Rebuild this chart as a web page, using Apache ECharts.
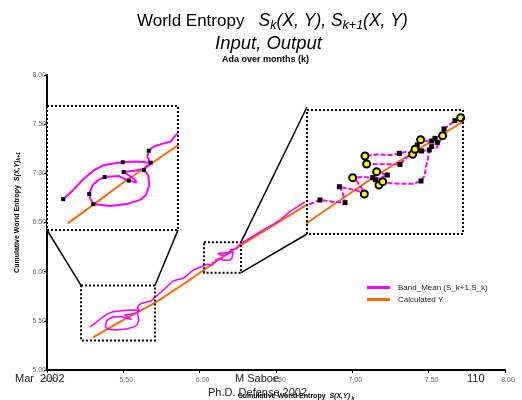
<!DOCTYPE html>
<html>
<head>
<meta charset="utf-8">
<script src="https://cdn.jsdelivr.net/npm/echarts@6/dist/echarts.min.js"></script>
<style>
html, body { margin: 0; padding: 0; background: #fff; }
#chart { width: 522px; height: 400px; }
</style>
</head>
<body>
<div id="chart"></div>
<script>
// Band mean path [x, y, mark] - mark 1 = black square, 2 = yellow circle (shown in the zooms only)
const bandMean = [
    [5.283, 5.439, 1], [5.320, 5.481, 0], [5.357, 5.529, 0], [5.394, 5.568, 0], [5.431, 5.592, 0],
    [5.474, 5.601, 0], [5.503, 5.606, 1], [5.554, 5.609, 0], [5.606, 5.604, 1], [5.589, 5.586, 0],
    [5.581, 5.571, 1], [5.597, 5.548, 0], [5.601, 5.503, 0], [5.589, 5.458, 0], [5.567, 5.436, 0],
    [5.517, 5.417, 0], [5.456, 5.408, 0], [5.394, 5.417, 1], [5.382, 5.443, 0], [5.379, 5.463, 1],
    [5.392, 5.503, 0], [5.413, 5.526, 0], [5.436, 5.539, 1], [5.487, 5.544, 0], [5.525, 5.523, 1],
    [5.554, 5.515, 0], [5.544, 5.532, 0], [5.506, 5.562, 1], [5.548, 5.568, 0], [5.579, 5.576, 0],
    [5.606, 5.597, 0], [5.594, 5.631, 0], [5.599, 5.658, 1], [5.616, 5.676, 0], [5.653, 5.691, 0],
    [5.680, 5.699, 0], [5.696, 5.725, 0], [5.708, 5.741, 0],
    [5.762, 5.814, 0], [5.827, 5.908, 0], [5.893, 5.932, 0], [5.958, 6.017, 0],
    [6.0285, 6.0625, 0], [6.0482, 6.075, 1], [6.0690, 6.0708, 0], [6.0872, 6.0684, 1], [6.0836, 6.0942, 0],
    [6.0784, 6.1083, 1], [6.0898, 6.1042, 0], [6.1054, 6.0992, 0], [6.1173, 6.0900, 2], [6.1126, 6.1058, 0],
    [6.1064, 6.1208, 0], [6.0991, 6.1308, 2], [6.1157, 6.1325, 0], [6.1303, 6.1308, 1], [6.1365, 6.1458, 2],
    [6.1531, 6.1375, 1], [6.1344, 6.1258, 1], [6.1401, 6.1125, 2], [6.1459, 6.1208, 2], [6.1531, 6.1175, 0],
    [6.1728, 6.1158, 0], [6.1936, 6.1158, 0], [6.2056, 6.1225, 1], [6.2113, 6.1358, 0], [6.2134, 6.1583, 0],
    [6.2165, 6.1792, 0], [6.2185, 6.2000, 1], [6.2066, 6.1975, 1], [6.1926, 6.1892, 2], [6.1832, 6.1958, 0],
    [6.1718, 6.1917, 1], [6.1573, 6.1867, 0], [6.1391, 6.1892, 0], [6.1183, 6.1850, 2], [6.1209, 6.1650, 2],
    [6.1469, 6.1642, 0], [6.1728, 6.1642, 1], [6.1962, 6.2017, 2], [6.1998, 6.2125, 1], [6.2050, 6.2258, 2],
    [6.2144, 6.2225, 0], [6.2222, 6.2225, 1], [6.2274, 6.2292, 1], [6.2310, 6.2192, 1], [6.2222, 6.2083, 1],
    [6.2300, 6.2058, 0], [6.2393, 6.2358, 2], [6.2414, 6.2525, 1], [6.2585, 6.2733, 1], [6.2674, 6.2808, 2],
    [6.2726, 6.2875, 0],
    [6.33, 6.34, 0], [6.41, 6.42, 0], [6.47, 6.47, 0], [6.53, 6.53, 0], [6.59, 6.61, 0], [6.69, 6.71, 0]
];

const calculatedY = [
    [5.30, 5.33], [5.50, 5.51], [5.71, 5.685], [5.90, 5.88], [6.03, 6.02],
    [6.13, 6.13], [6.27, 6.27], [6.45, 6.44], [6.70, 6.68]
];

// ranges of the two magnified views
const zoom1X = [5.223, 5.707];
const zoom1Y = [5.30, 5.86];
const zoom2X = [6.028, 6.271];
const zoom2Y = [5.99, 6.30];

const FONT = '"Liberation Sans", Arial, sans-serif';
const PINK = '#ff00ff';
const ORANGE = '#ff6a00';
const BAND_NAME = 'Band_Mean (S_k+1,S_k)';

const mainGrid = { left: 47, top: 75, width: 458, height: 295 };
const zoom1Grid = { left: 47, top: 106, width: 131, height: 124 };
const zoom2Grid = { left: 307, top: 110, width: 156, height: 124 };

const pinkXY = bandMean.map(p => [p[0], p[1]]);
const blackMarks = bandMean.filter(p => p[2] === 1).map(p => [p[0], p[1]]);
const yellowMarks = bandMean.filter(p => p[2] === 2).map(p => [p[0], p[1]]);

const chart = echarts.init(document.getElementById('chart'));

function hiddenAxis(gridIndex, range) {
    return { gridIndex: gridIndex, type: 'value', min: range[0], max: range[1], show: false };
}

function lineSeries(name, data, idx, color, width, type, z) {
    return {
        name: name, type: 'line', data: data, xAxisIndex: idx, yAxisIndex: idx,
        showSymbol: false, symbol: 'none', silent: true, animation: false, clip: true, z: z,
        itemStyle: { color: color },
        lineStyle: { color: color, width: width, type: type }
    };
}

function markSeries(data, idx, symbol, size, color, border) {
    return {
        type: 'scatter', data: data, xAxisIndex: idx, yAxisIndex: idx, symbol: symbol,
        symbolSize: size, silent: true, animation: false, clip: true, z: 6,
        itemStyle: { color: color, borderColor: '#000', borderWidth: border, opacity: 1 }
    };
}

const titleRich = {
    n: { fontSize: 17, fontFamily: FONT, fontWeight: 'normal', color: '#000', lineHeight: 22, verticalAlign: 'middle' },
    i: { fontSize: 17.5, fontFamily: FONT, fontWeight: 'normal', fontStyle: 'italic', color: '#000', lineHeight: 22, verticalAlign: 'middle' },
    s: { fontSize: 12.5, fontFamily: FONT, fontWeight: 'normal', fontStyle: 'italic', color: '#000', lineHeight: 22, verticalAlign: 'bottom' }
};

const axisNameRich = {
    b: { fontSize: 7, fontFamily: FONT, fontWeight: 'bold', color: '#000' },
    bi: { fontSize: 7, fontFamily: FONT, fontWeight: 'bold', fontStyle: 'italic', color: '#000' },
    s: { fontSize: 5, fontFamily: FONT, fontWeight: 'bold', fontStyle: 'italic', color: '#000', padding: [4, 0, 0, 0] }
};

const option = {
    backgroundColor: '#fff',
    animation: false,
    title: [{
        text: '{n|World Entropy   }{i|S}{s|k}{i|(X, Y), S}{s|k+1}{i|(X, Y)}',
        left: 137, top: 10, padding: 0,
        textStyle: { fontWeight: 'normal', rich: titleRich }
    }, {
        text: 'Input, Output',
        left: 215, top: 34, padding: 0,
        textStyle: { fontSize: 18.5, fontFamily: FONT, fontStyle: 'italic', fontWeight: 'normal', color: '#000' }
    }, {
        text: 'Ada over months (k)',
        left: 222, top: 55, padding: 0,
        textStyle: { fontSize: 9, fontFamily: FONT, fontWeight: 'bold', color: '#000' }
    }],
    legend: {
        data: [BAND_NAME, 'Calculated Y'],
        orient: 'vertical', left: 362, top: 278,
        icon: 'rect', itemWidth: 23, itemHeight: 3, itemGap: 3,
        textStyle: { fontSize: 8, fontFamily: FONT, color: '#222', lineHeight: 9, padding: [0, 0, 0, 3] }
    },
    grid: [
        Object.assign({ outerBoundsMode: 'none' }, mainGrid),
        Object.assign({ outerBoundsMode: 'none', show: true, backgroundColor: '#fff', borderWidth: 0, z: 3 }, zoom1Grid),
        Object.assign({ outerBoundsMode: 'none', show: true, backgroundColor: '#fff', borderWidth: 0, z: 3 }, zoom2Grid)
    ],
    xAxis: [{
        gridIndex: 0, type: 'value', min: 5, max: 8, interval: 0.5,
        name: '{b|Cumulative World Entropy  }{bi|S(X,Y)}{s| k}',
        nameLocation: 'middle', nameGap: 22,
        nameTextStyle: { padding: [0, 0, 0, 40], rich: axisNameRich },
        axisLine: { lineStyle: { color: '#000', width: 2 } },
        axisTick: { length: 3, lineStyle: { color: '#000', width: 1 } },
        axisLabel: { fontSize: 7, fontFamily: FONT, color: '#666', margin: 7, padding: [0, 0, 0, 6],
            formatter: v => v.toFixed(2) },
        splitLine: { show: false }
    }, hiddenAxis(1, zoom1X), hiddenAxis(2, zoom2X)],
    yAxis: [{
        gridIndex: 0, type: 'value', min: 5, max: 8, interval: 0.5,
        name: '{b|Cumulative World Entropy  }{bi|S(X,Y)}{s|k+1}',
        nameLocation: 'middle', nameGap: 25, nameRotate: 90,
        nameTextStyle: { padding: [0, 0, 0, 20], rich: axisNameRich },
        axisLine: { lineStyle: { color: '#000', width: 2 } },
        axisTick: { length: 3, lineStyle: { color: '#000', width: 1 } },
        axisLabel: { fontSize: 7, fontFamily: FONT, color: '#666', margin: 1, formatter: v => v.toFixed(2) },
        splitLine: { show: false }
    }, hiddenAxis(1, zoom1Y), hiddenAxis(2, zoom2Y)],
    series: [
        lineSeries(BAND_NAME, pinkXY, 0, PINK, 1.5, 'solid', 3),
        lineSeries('Calculated Y', calculatedY, 0, ORANGE, 2, 'solid', 2),
        lineSeries(BAND_NAME, pinkXY, 1, PINK, 2, 'solid', 5),
        lineSeries('Calculated Y', calculatedY, 1, ORANGE, 2, 'solid', 4),
        markSeries(blackMarks, 1, 'rect', 4, '#000', 0),
        lineSeries(BAND_NAME, pinkXY, 2, PINK, 2, [5, 2], 5),
        lineSeries('Calculated Y', calculatedY, 2, ORANGE, 2, 'solid', 4),
        markSeries(blackMarks, 2, 'rect', 5, '#000', 0),
        markSeries(yellowMarks, 2, 'circle', 7, '#ffff00', 2)
    ]
};

chart.setOption(option);

// boxes, connectors and footer, placed from the axes' own conversion
const px = (x, y) => chart.convertToPixel({ gridIndex: 0 }, [x, y]);
const b1a = px(zoom1X[0], zoom1Y[1]);
const b1b = px(zoom1X[1], zoom1Y[0]);
const b2a = px(zoom2X[0], zoom2Y[1]);
const b2b = px(zoom2X[1], zoom2Y[0]);

const dotted = { fill: 'none', stroke: '#000', lineWidth: 2, lineDash: [2, 2] };
const solid = { stroke: '#000', lineWidth: 1.5 };

function rect(x, y, w, h) {
    return { type: 'rect', z: 100, silent: true, shape: { x: x, y: y, width: w, height: h }, style: dotted };
}
function seg(a, b) {
    return { type: 'line', z: 100, silent: true, shape: { x1: a[0], y1: a[1], x2: b[0], y2: b[1] }, style: solid };
}
function label(text, x, y) {
    return { type: 'text', z: 100, silent: true, x: x, y: y,
        style: { text: text, fontSize: 11, fontFamily: FONT, fill: '#222', verticalAlign: 'middle' } };
}

chart.setOption({
    graphic: [
        rect(b1a[0], b1a[1], b1b[0] - b1a[0], b1b[1] - b1a[1]),
        rect(b2a[0], b2a[1], b2b[0] - b2a[0], b2b[1] - b2a[1]),
        rect(zoom1Grid.left, zoom1Grid.top, zoom1Grid.width, zoom1Grid.height),
        rect(zoom2Grid.left, zoom2Grid.top, zoom2Grid.width, zoom2Grid.height),
        seg([zoom1Grid.left, zoom1Grid.top + zoom1Grid.height], [b1a[0], b1a[1]]),
        seg([zoom1Grid.left + zoom1Grid.width, zoom1Grid.top + zoom1Grid.height], [b1b[0], b1a[1]]),
        seg([b2b[0], b2a[1]], [zoom2Grid.left, zoom2Grid.top - 3]),
        seg([b2b[0], b2b[1]], [zoom2Grid.left, zoom2Grid.top + zoom2Grid.height]),
        label('Mar  2002', 15, 379),
        label('M Saboe', 235, 379),
        label('110', 467, 379),
        label('Ph.D. Defense 2002', 208, 393)
    ]
});

window.addEventListener('resize', function() {
    chart.resize();
});
</script>
</body>
</html>
